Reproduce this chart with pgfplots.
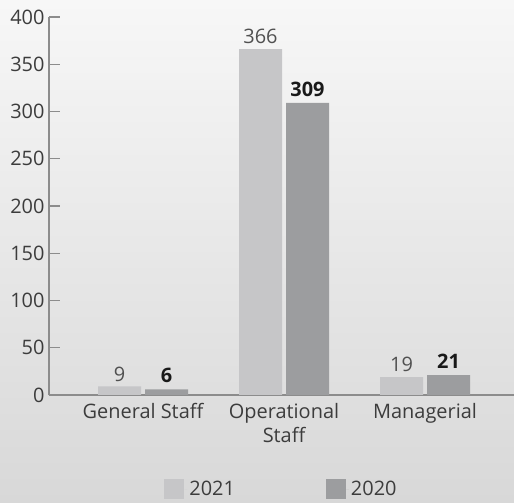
\documentclass[border=0pt]{standalone}
\usepackage{fontspec}
\setmainfont{Open Sans}
\usepackage{pgfplots}
\pgfplotsset{compat=1.18}
\definecolor{c2021}{HTML}{C6C6C8}
\definecolor{c2020}{HTML}{9C9D9F}
\definecolor{txt}{HTML}{3C3C3C}
\definecolor{lbl}{HTML}{505050}
\definecolor{axl}{HTML}{8C8C8C}
\definecolor{bgtop}{HTML}{F7F7F7}
\definecolor{bgmid}{HTML}{EDEDED}
\definecolor{bgbot}{HTML}{D8D8D8}
\begin{document}
\begin{tikzpicture}
\shade[top color=bgtop, middle color=bgmid, bottom color=bgbot] (0bp,0bp) rectangle (514bp,503bp);
\useasboundingbox (0bp,0bp) rectangle (514bp,503bp);
\begin{axis}[
  at={(49bp,108bp)}, anchor=south west,
  scale only axis, width=465bp, height=378bp,
  ybar,
  xmin=-0.667, xmax=2.631, ymin=0, ymax=400,
  axis x line*=bottom, axis y line*=left,
  xtick pos=bottom, ytick pos=left,
  axis line style={-, draw=axl, line width=1.3bp},
  ytick={0,50,...,400},
  xtick={0,1,2},
  xticklabels={General Staff, Operational\\Staff, Managerial},
  tick align=inside,
  major tick length=11bp,
  ytick style={draw=axl, line width=1.3bp},
  xtick style={draw=none},
  /pgf/number format/assume math mode=true,
  tick label style={font=\fontsize{20}{24}\selectfont, text=txt},
  yticklabel style={xshift=-1bp},
  xticklabel style={align=center, yshift=-5bp},
  every node near coord/.append style={font=\fontsize{20}{24}\selectfont, yshift=1.5bp},
  legend style={draw=none, fill=none, at={(0.5,-0.249)}, anchor=center,
    font=\fontsize{20}{24}\selectfont, text=txt,
    /tikz/every even column/.append style={column sep=89bp}},
  legend columns=2,
  legend image code/.code={\draw[#1, draw=none] (0bp,-10bp) rectangle (20bp,10bp);\path (20bp,0bp) -- (23bp,0bp);},
]
\addplot[fill=c2021, draw=none, bar width=43bp, bar shift=-23.5bp,
  nodes near coords, nodes near coords style={text=lbl}]
  coordinates {(0,9) (1,366) (2,19)};
\addplot[fill=c2020, draw=none, bar width=43bp, bar shift=23.5bp,
  nodes near coords, nodes near coords style={text=black!90, font=\fontsize{20}{24}\selectfont\bfseries, yshift=1.5bp}]
  coordinates {(0,6) (1,309) (2,21)};
\legend{2021,2020}
\end{axis}
\end{tikzpicture}
\end{document}
